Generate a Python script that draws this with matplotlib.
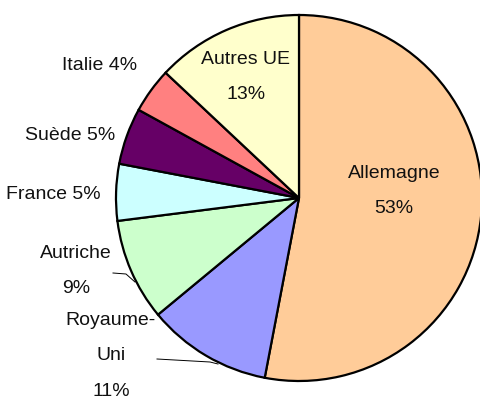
import matplotlib
matplotlib.use('Agg')
from matplotlib import pyplot as plt
from matplotlib import font_manager

# data
countries=['Allemagne','Royaume-Uni','Autriche','France','Suède','Italie','Autres UE']
shares=[53,11,9,5,5,4,13]
colors=['#FFCC99','#9999FF','#CCFFCC','#CCFFFF','#660066','#FF8080','#FFFFCC']
label_texts=['Allemagne\n53%','Royaume-\nUni\n11%','Autriche\n9%','France 5%','Suède 5%','Italie 4%','Autres UE\n13%']

names={f.name for f in font_manager.fontManager.ttflist}
fam='Liberation Sans Narrow' if 'Liberation Sans Narrow' in names else 'Liberation Sans'
plt.rcParams['font.family']=[fam,'DejaVu Sans']

W,H=481,401
fig=plt.figure(figsize=(W/100,H/100),dpi=100)
ax=fig.add_axes([0,0,1,1])
cx,cy,R=299,H-198,183
ax.pie(shares,colors=colors,startangle=90,counterclock=False,center=(cx,cy),radius=R,
       wedgeprops=dict(edgecolor='black',linewidth=1.6))
ax.set_xlim(0,W)
ax.set_ylim(0,H)
ax.set_aspect('equal')
ax.axis('off')

# label positions in pixels (x, y-from-top, ha)
label_pos=[(394,191,'center'),(111,356,'center'),(76,271,'center'),(101,195,'right'),
           (115,135,'right'),(137,65,'right'),(246,77,'center')]
for txt,(x,y,ha) in zip(label_texts,label_pos):
    ax.text(x,H-y,txt,ha=ha,va='center',fontsize=14,linespacing=2.4,color='#111111')

# leader lines
ax.plot([113,126,135],[H-273,H-274,H-282],color='black',lw=0.7)
ax.plot([157,210,218],[H-359,H-362,H-364],color='black',lw=0.7)

fig.savefig('out.png',dpi=100)
